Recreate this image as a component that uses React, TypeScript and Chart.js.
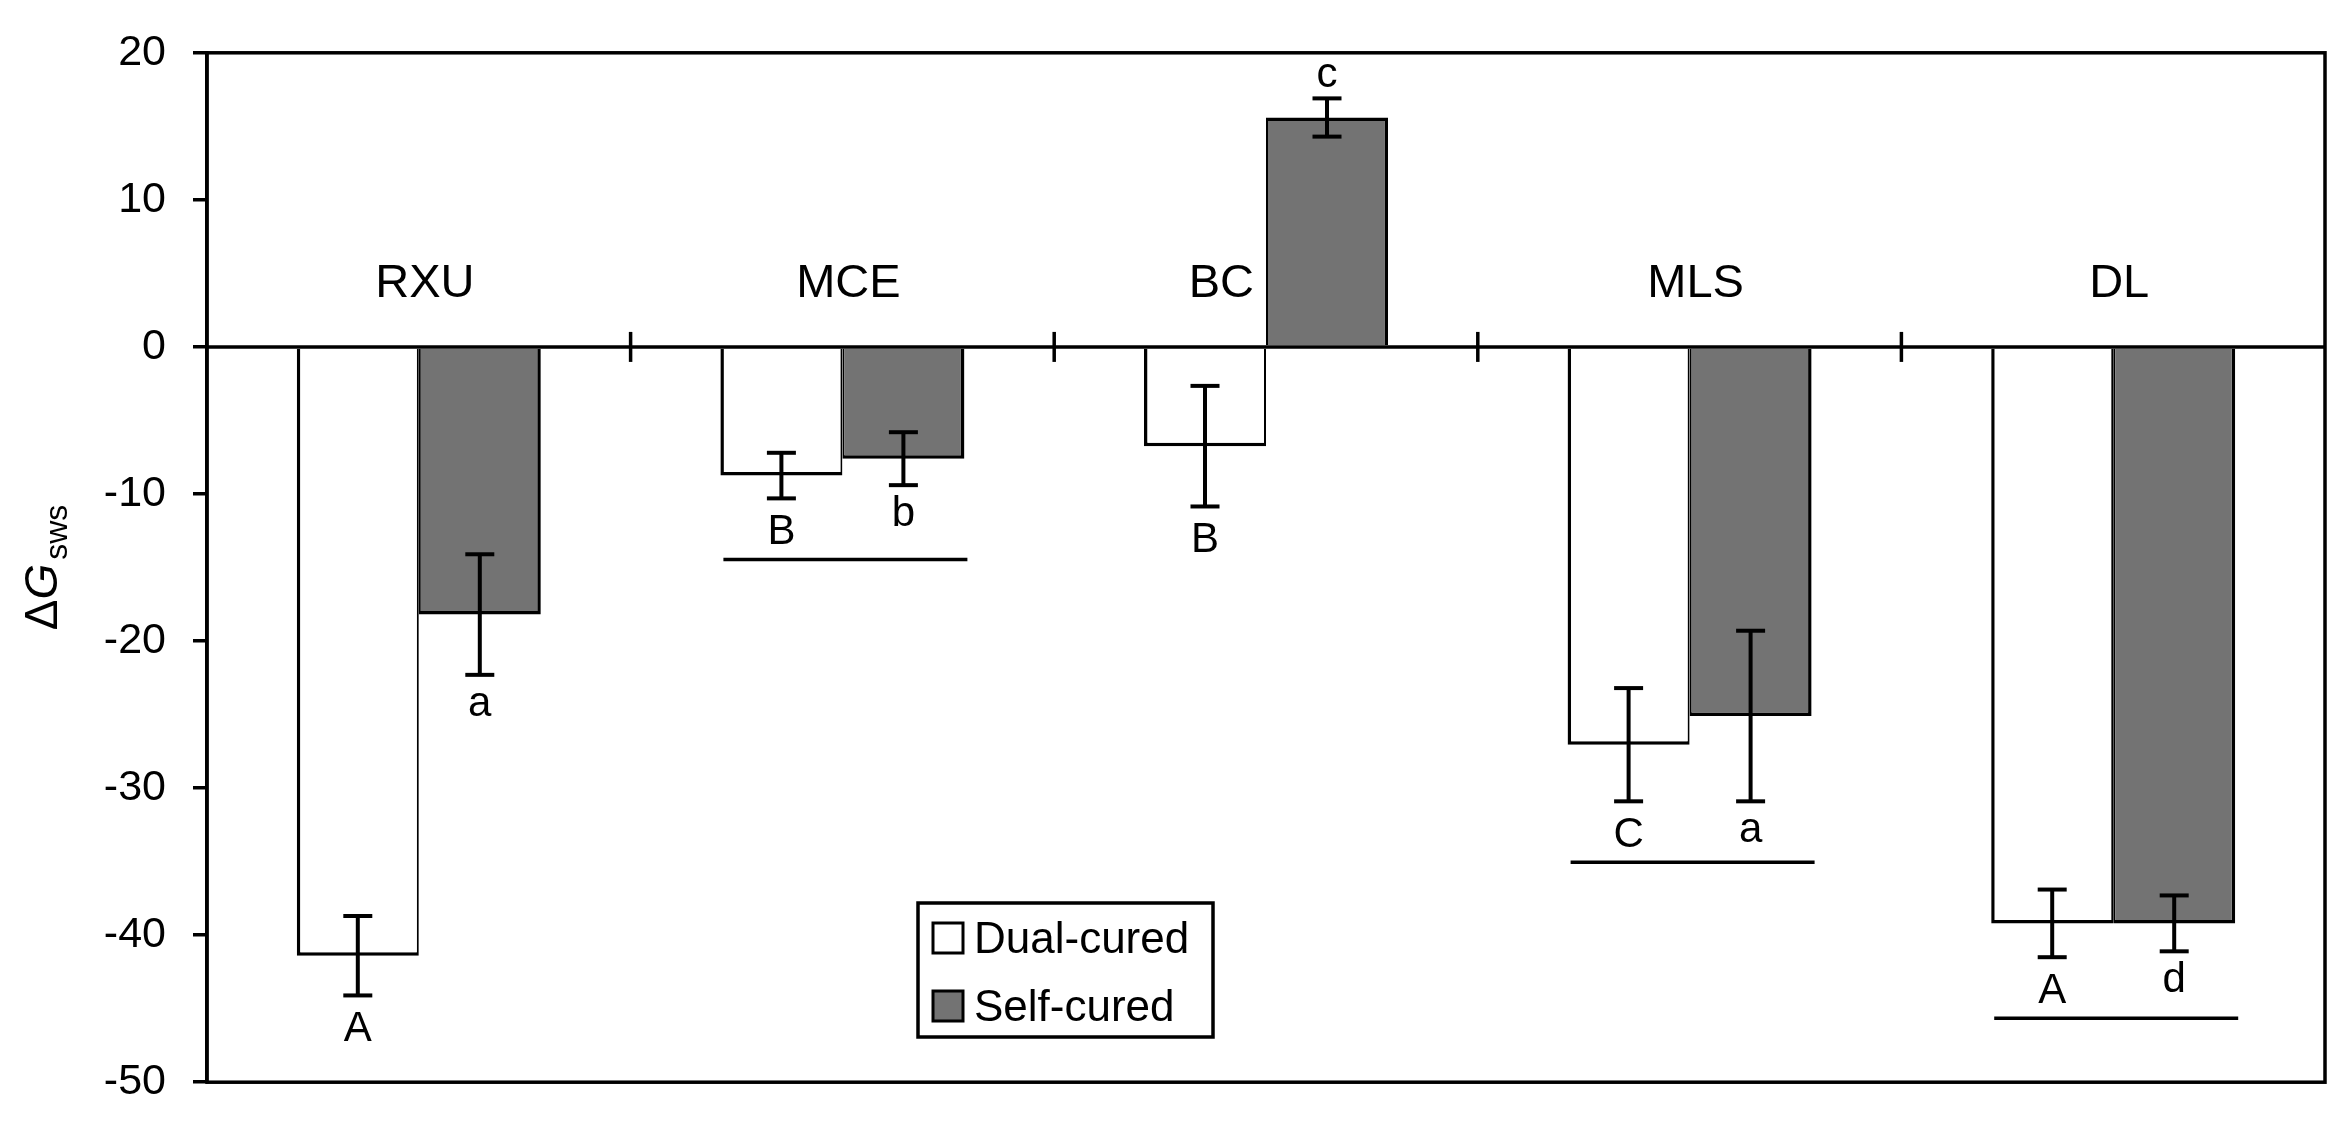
import React, { useEffect, useRef } from "react";
import { Chart, registerables } from "chart.js";

Chart.register(...registerables);

// ---------- data ----------
const categories = ["RXU", "MCE", "BC", "MLS", "DL"];
const seriesNames = ["Dual-cured", "Self-cured"];
const dualCured = [-41.4, -8.75, -6.75, -27.05, -39.2];
const dualErr = [2.7, 1.55, 4.1, 3.85, 2.3];
const selfCured = [-18.2, -7.6, 15.6, -25.1, -39.2];
const selfErr = [4.1, 1.8, 1.3, 5.8, 1.9];
const dualLetters = ["A", "B", "B", "C", "A"];
const selfLetters = ["a", "b", "c", "a", "d"];
const underlined = [false, true, false, true, true];
const yMin = -50;
const yMax = 20;
const yStep = 10;
const categoryLabelLevel = 3.4;

// ---------- style ----------
const FONT = "'Liberation Sans', Arial, Helvetica, sans-serif";
const DUAL_FILL = "#ffffff";
const SELF_FILL = "#737373";
const W = 2346;
const H = 1135;

function seg(ctx: CanvasRenderingContext2D, x1: number, y1: number, x2: number, y2: number) {
  ctx.beginPath();
  ctx.moveTo(x1, y1);
  ctx.lineTo(x2, y2);
  ctx.stroke();
}

const annotatePlugin = {
  id: "annotate",
  afterDatasetsDraw(chart: any) {
    const ctx: CanvasRenderingContext2D = chart.ctx;
    const ys = chart.scales.y;
    const xs = chart.scales.x;
    const area = chart.chartArea;
    const y0 = ys.getPixelForValue(0);
    ctx.save();
    ctx.strokeStyle = "#000";
    ctx.fillStyle = "#000";
    ctx.lineCap = "butt";

    // zero axis line
    ctx.lineWidth = 3.5;
    seg(ctx, area.left, y0, area.right, y0);
    // group boundary ticks crossing the zero line
    ctx.lineWidth = 3.5;
    for (let i = 0; i < categories.length - 1; i++) {
      const xb = (xs.getPixelForValue(i) + xs.getPixelForValue(i + 1)) / 2;
      seg(ctx, xb, y0 - 15, xb, y0 + 15);
    }

    // error bars and letters
    const metas = [chart.getDatasetMeta(0), chart.getDatasetMeta(1)];
    const vals = [dualCured, selfCured];
    const errs = [dualErr, selfErr];
    const letters = [dualLetters, selfLetters];
    const baselines: number[][] = [[], []];
    ctx.font = `42px ${FONT}`;
    ctx.textAlign = "center";
    ctx.textBaseline = "alphabetic";
    for (let d = 0; d < 2; d++) {
      for (let i = 0; i < categories.length; i++) {
        const bar = metas[d].data[i];
        const v = vals[d][i];
        const e = errs[d][i];
        const top = ys.getPixelForValue(v + e);
        const bot = ys.getPixelForValue(v - e);
        ctx.lineWidth = 4;
        seg(ctx, bar.x, top, bar.x, bot);
        seg(ctx, bar.x - 14.5, top, bar.x + 14.5, top);
        seg(ctx, bar.x - 14.5, bot, bar.x + 14.5, bot);
        const L = letters[d][i];
        const upper = L === L.toUpperCase();
        const bl = v < 0 ? bot + (upper ? 46 : 41) : top - 11;
        baselines[d][i] = bl;
        ctx.fillText(L, bar.x, bl);
      }
    }

    // underlines
    ctx.lineWidth = 3.5;
    for (let i = 0; i < categories.length; i++) {
      if (!underlined[i]) continue;
      const yl = Math.max(baselines[0][i], baselines[1][i]) + 15;
      const b0 = metas[0].data[i];
      const b1 = metas[1].data[i];
      seg(ctx, b0.x - b0.width / 2 + 3, yl, b1.x + b1.width / 2 + 3, yl);
    }

    // category labels
    ctx.font = `47px ${FONT}`;
    const ly = ys.getPixelForValue(categoryLabelLevel);
    for (let i = 0; i < categories.length; i++) {
      const cx = xs.getPixelForValue(i);
      if (selfCured[i] > categoryLabelLevel) {
        const b1 = metas[1].data[i];
        ctx.textAlign = "right";
        ctx.fillText(categories[i], b1.x - b1.width / 2 - 12, ly);
      } else {
        ctx.textAlign = "center";
        ctx.fillText(categories[i], cx + 6, ly);
      }
    }

    // frame
    ctx.lineWidth = 3.5;
    ctx.strokeRect(area.left, area.top, area.right - area.left, area.bottom - area.top);

    // legend
    const lx = 918, lyTop = 903, lw = 295, lh = 134;
    ctx.fillStyle = "#fff";
    ctx.fillRect(lx, lyTop, lw, lh);
    ctx.strokeStyle = "#000";
    ctx.lineWidth = 3.5;
    ctx.strokeRect(lx, lyTop, lw, lh);
    const fills = [DUAL_FILL, SELF_FILL];
    ctx.font = `44px ${FONT}`;
    ctx.textAlign = "left";
    for (let d = 0; d < 2; d++) {
      const sy = lyTop + 20 + d * 68;
      ctx.fillStyle = fills[d];
      ctx.fillRect(lx + 15, sy, 30, 30);
      ctx.lineWidth = 3;
      ctx.strokeRect(lx + 15, sy, 30, 30);
      ctx.fillStyle = "#000";
      ctx.fillText(seriesNames[d], lx + 56, sy + 30);
    }

    // y-axis title: ΔG_sws
    const cy = (area.top + area.bottom) / 2;
    ctx.save();
    ctx.translate(57, cy);
    ctx.rotate(-Math.PI / 2);
    const fMain = `46px ${FONT}`;
    const fItal = `italic 46px ${FONT}`;
    const fSub = `32px ${FONT}`;
    ctx.font = fMain;
    const wD = ctx.measureText("Δ").width;
    ctx.font = fItal;
    const wG = ctx.measureText("G").width;
    ctx.font = fSub;
    const wS = ctx.measureText("sws").width;
    const total = wD + wG + 4 + wS;
    let x = -total / 2;
    ctx.textAlign = "left";
    ctx.fillStyle = "#000";
    ctx.font = fMain;
    ctx.fillText("Δ", x, 0);
    x += wD;
    ctx.font = fItal;
    ctx.fillText("G", x, 0);
    x += wG + 4;
    ctx.font = fSub;
    ctx.fillText("sws", x, 10);
    ctx.restore();

    ctx.restore();
  },
};

export default function App() {
  const ref = useRef<HTMLCanvasElement | null>(null);
  useEffect(() => {
    if (!ref.current) return;
    const chart = new Chart(ref.current, {
      type: "bar",
      data: {
        labels: categories,
        datasets: [
          {
            label: seriesNames[0],
            data: dualCured,
            backgroundColor: DUAL_FILL,
            borderColor: "#000",
            borderWidth: { top: 3.5, bottom: 3.5, left: 3.5, right: 2 },
            barPercentage: 1,
            categoryPercentage: 0.576,
          },
          {
            label: seriesNames[1],
            data: selfCured,
            backgroundColor: SELF_FILL,
            borderColor: "#000",
            borderWidth: { top: 3.5, bottom: 3.5, left: 2, right: 3.5 },
            barPercentage: 1,
            categoryPercentage: 0.576,
          },
        ],
      },
      options: {
        responsive: false,
        animation: false,
        devicePixelRatio: 1,
        layout: { padding: { left: 0, top: 35, right: 21, bottom: 24 } },
        plugins: {
          legend: { display: false },
          tooltip: { enabled: false },
          title: { display: false },
        },
        scales: {
          x: {
            type: "category",
            display: false,
            offset: true,
          },
          y: {
            min: yMin,
            max: yMax,
            afterFit: (scale: any) => {
              scale.width = 207;
            },
            ticks: {
              stepSize: yStep,
              color: "#000",
              padding: 27,
              font: { family: FONT, size: 43 },
            },
            grid: {
              drawOnChartArea: false,
              drawTicks: true,
              tickLength: 14,
              color: "#000",
              lineWidth: 3.5,
            },
            border: { display: true, color: "#000", width: 3.5 },
          },
        },
      },
      plugins: [annotatePlugin],
    });
    return () => chart.destroy();
  }, []);

  return (
    <div style={{ position: "absolute", left: 0, top: 0, width: W, height: H, background: "#fff" }}>
      <canvas ref={ref} width={W} height={H} style={{ display: "block", width: W, height: H }} />
    </div>
  );
}
